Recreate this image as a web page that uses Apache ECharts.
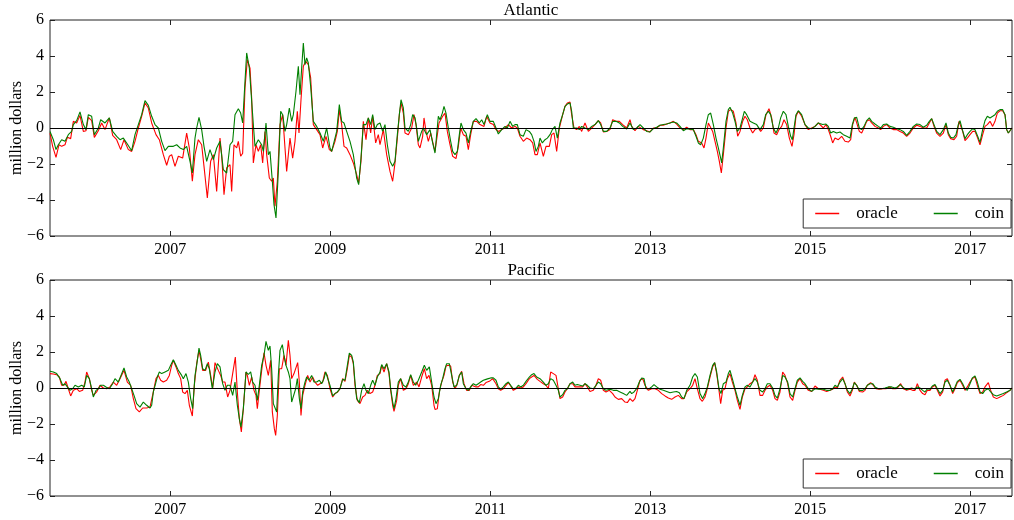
<!DOCTYPE html>
<html><head><meta charset="utf-8">
<script src="https://cdn.jsdelivr.net/npm/echarts/dist/echarts.min.js"></script>
<style>html,body{margin:0;padding:0;background:#fff}#c{width:1014px;height:520px}</style>
</head><body><div id="c"></div>
<script>
// x values: months since January 2005
const xTickMonths=[24,48,72,96,120,144];
const xTickLabels=['2007','2009','2011','2013','2015','2017'];
const panelTitles=['Atlantic','Pacific'];
const seriesNames=['oracle','coin'];

const atlOracle=[[5.95,-0.28],[6.35,-1.02],[6.85,-1.63],[7.3,-0.93],[7.7,-1.02],[8.2,-0.93],[8.55,-0.52],[9.05,-0.59],[9.45,0.37],[9.95,0.28],[10.45,0.7],[10.95,-0.19],[11.35,-0.15],[11.7,0.59],[12.2,0.41],[12.6,-0.52],[13.2,-0.15],[13.7,0.28],[14.2,-0.09],[14.85,0.56],[15.35,-0.41],[15.95,-0.65],[16.55,-1.2],[17.05,-0.65],[17.7,-1.2],[18.2,-1.3],[18.7,-0.74],[19.2,0],[19.7,0.65],[20.2,1.39],[20.7,1.11],[21.2,0.28],[21.85,-0.37],[22.35,-0.65],[22.95,-1.48],[23.45,-2.07],[23.85,-1.57],[24.2,-1.48],[24.7,-2.13],[25.2,-1.57],[25.85,-1.67],[26.45,-0.28],[26.85,-1.11],[27.3,-2.96],[27.7,-1.48],[28.2,-0.65],[28.7,-0.93],[29.05,-2.13],[29.55,-3.89],[30.05,-1.85],[30.45,-1.48],[30.95,-3.52],[31.45,-0.56],[31.7,-1.48],[32.05,-3.7],[32.45,-2.22],[32.95,-2.04],[33.2,-3.52],[33.55,-0.93],[33.95,-1.11],[34.2,-0.74],[34.55,-1.57],[34.85,-1.4],[35.2,2.22],[35.55,3.8],[35.95,3.33],[36.2,1.67],[36.45,-1.94],[36.85,-0.93],[37.2,-1.3],[37.55,-0.93],[37.85,-1.94],[38.2,-0.19],[38.45,-1.48],[38.85,-2.78],[39.2,-2.96],[39.45,-2.78],[39.7,-4.35],[40.05,-2.96],[40.45,0.19],[40.85,0.74],[41.2,-1.11],[41.45,-2.41],[41.7,-1.48],[41.95,-0.56],[42.35,-1.67],[42.7,-0.74],[43.05,0.93],[43.3,-0.28],[43.6,1.57],[43.95,3.43],[44.3,3.7],[44.7,3.52],[45.05,2.78],[45.45,0.19],[45.95,-0.09],[46.45,-0.37],[46.85,-1.11],[47.35,-0.46],[47.85,-1.2],[48.2,-1.3],[48.7,-0.74],[49.05,-0.19],[49.35,1.02],[49.7,0.19],[50.05,-1.02],[50.45,-1.11],[50.95,-1.48],[51.45,-1.94],[51.95,-2.59],[52.25,-3.06],[52.6,-1.85],[52.95,0.37],[53.35,-0.65],[53.7,0.56],[54.05,-0.28],[54.35,0.65],[54.8,-0.83],[55.2,-0.37],[55.45,-0.93],[55.95,-0.09],[56.45,-1.48],[56.95,-2.41],[57.35,-2.96],[57.7,-1.94],[58.05,-0.56],[58.35,0.74],[58.6,1.39],[58.95,0.83],[59.2,-0.28],[59.7,-0.37],[60.2,0],[60.55,0.74],[60.85,0.19],[61.2,-0.93],[61.45,-1.11],[61.85,-0.46],[62.05,0.56],[62.35,-0.19],[62.7,-0.74],[63.05,-0.28],[63.45,-0.93],[63.7,-1.3],[64.3,0.28],[64.55,0.19],[64.85,0.65],[65.2,0.83],[65.55,-0.19],[65.95,-0.93],[66.35,-1.57],[66.85,-1.7],[67.2,-1.02],[67.55,0],[67.95,-0.37],[68.35,-0.46],[68.7,-1.2],[69.05,-0.37],[69.45,0.37],[69.95,0.37],[70.45,0.19],[71.05,0.09],[71.45,0.65],[71.95,0.28],[72.45,0.19],[72.85,-0.09],[73.2,-0.19],[73.7,-0.09],[74.2,0],[74.7,0.19],[75.2,0],[75.7,0.09],[76.05,0],[76.45,-0.46],[76.95,-0.74],[77.45,-0.56],[77.95,-0.65],[78.35,-0.83],[78.7,-1.48],[79.05,-1.48],[79.45,-0.83],[79.95,-1.57],[80.35,-1.02],[80.85,-1.02],[81.2,-0.37],[81.55,-0.28],[81.95,-1.3],[82.35,0],[82.85,0.74],[83.2,1.2],[83.55,1.39],[83.95,1.44],[84.2,0.74],[84.55,0],[84.95,-0.09],[85.35,0.09],[85.7,-0.19],[86.2,0.28],[86.7,-0.19],[87.2,0],[87.7,0.19],[88.2,0.41],[88.55,0.28],[88.95,-0.22],[89.45,-0.19],[89.95,-0.09],[90.35,0.46],[90.85,0.37],[91.35,0.37],[91.85,0.19],[92.45,0],[92.95,0.46],[93.2,0.09],[93.7,-0.15],[94.2,0.09],[94.95,-0.09],[95.45,-0.15],[95.95,-0.22],[96.45,0],[96.95,0],[97.45,0.15],[97.95,0.15],[98.45,0.22],[98.95,0.28],[99.45,0.37],[99.95,0.22],[100.45,0],[100.95,-0.09],[101.45,0.04],[101.95,-0.09],[102.45,-0.09],[102.85,-0.37],[103.2,-0.74],[103.7,-0.83],[104.05,-1.11],[104.35,-0.56],[104.7,0.28],[104.95,0.37],[105.35,-0.19],[105.7,-0.74],[106.05,-1.3],[106.35,-1.85],[106.65,-2.5],[106.95,-1.48],[107.35,0],[107.7,0.93],[108.05,1.02],[108.45,0.93],[108.85,0.28],[109.1,-0.46],[109.45,-0.19],[109.85,0.37],[110.2,0.65],[110.55,0.46],[110.95,0],[111.35,-0.28],[111.7,-0.09],[112.2,0],[112.55,-0.19],[112.95,0],[113.35,0.74],[113.8,1.07],[114.2,0.56],[114.55,-0.28],[114.95,-0.37],[115.3,-0.09],[115.7,0.09],[116.05,0.46],[116.45,0.19],[116.85,-0.56],[117.25,-1.02],[117.55,-0.37],[117.85,0.65],[118.2,0.93],[118.7,0.65],[119.2,0.19],[119.7,-0.09],[120.2,0],[120.7,0.09],[121.2,0.28],[121.95,0],[122.35,0.19],[122.7,-0.09],[123.05,-0.46],[123.35,-0.83],[123.7,-0.56],[124.2,-0.65],[124.7,-0.46],[125.2,-0.74],[125.7,-0.78],[126.05,-0.65],[126.35,0.19],[126.7,0.59],[126.95,0.56],[127.35,-0.19],[127.7,-0.28],[128.05,0],[128.45,0.37],[128.85,0.46],[129.2,0.28],[129.7,0.09],[130.2,0],[130.55,-0.09],[130.95,0.09],[131.45,0.19],[131.95,0],[132.45,-0.09],[132.95,-0.09],[133.45,-0.19],[133.95,-0.28],[134.45,-0.46],[134.95,-0.28],[135.45,0],[135.95,0.15],[136.45,0.09],[136.95,0],[137.45,0],[137.85,0.28],[138.2,0.52],[138.55,0.09],[138.95,-0.28],[139.45,-0.46],[139.95,-0.28],[140.35,0.19],[140.7,-0.37],[141.05,-0.59],[141.55,-0.65],[141.95,-0.46],[142.3,0.37],[142.55,0.46],[142.85,-0.19],[143.2,-0.7],[143.55,-0.56],[143.95,-0.37],[144.35,-0.19],[144.7,-0.19],[145.1,-0.56],[145.45,-0.93],[145.85,-0.37],[146.2,0.09],[146.55,0.19],[146.95,0.37],[147.35,0.09],[147.7,0.37],[148.05,0.83],[148.45,0.96],[148.85,0.96],[149.2,0.74],[149.45,-0.09],[149.7,-0.28],[149.95,-0.19],[150.25,0]];

const atlCoin=[[5.95,-0.19],[6.45,-0.65],[6.85,-1.2],[7.2,-0.93],[7.7,-0.65],[8.2,-0.74],[8.7,-0.37],[9.2,-0.19],[9.45,0.19],[9.95,0.41],[10.45,0.89],[10.95,0.19],[11.35,-0.09],[11.7,0.74],[12.2,0.65],[12.6,-0.37],[13.2,0],[13.55,0.46],[14.2,0.28],[14.85,0.56],[15.35,-0.19],[15.95,-0.46],[16.45,-0.65],[16.95,-0.56],[17.45,-0.83],[18.2,-1.26],[18.7,-0.37],[19.2,0.19],[19.7,0.74],[20.2,1.52],[20.7,1.26],[21.2,0.65],[21.7,0.19],[22.2,0],[22.7,-0.74],[23.2,-1.26],[23.7,-1.02],[24.45,-1.02],[24.95,-0.93],[25.45,-1.11],[25.95,-1.2],[26.45,-1.02],[26.95,-1.85],[27.3,-2.5],[27.7,-0.56],[27.95,0],[28.3,0.59],[28.7,-0.09],[29.05,-1.02],[29.45,-1.85],[29.95,-1.2],[30.45,-1.76],[30.95,-1.11],[31.45,-0.74],[31.95,-2.31],[32.45,-2.5],[32.95,-0.93],[33.35,-0.74],[33.7,0.74],[34.2,1.07],[34.55,0.83],[34.85,0.28],[35.2,2.59],[35.45,4.17],[35.85,3.33],[36.1,3.24],[36.45,0.19],[36.7,-1.02],[37.2,-0.65],[37.7,-0.93],[37.95,-1.3],[38.35,0.28],[38.7,-1.48],[38.95,-1.3],[39.3,-2.96],[39.55,-4.26],[39.85,-5.0],[40.2,-2.41],[40.55,0.93],[40.85,0.74],[41.2,-0.19],[41.45,0.19],[41.85,1.11],[42.2,0.37],[42.45,0.74],[42.85,2.04],[43.2,3.43],[43.45,1.85],[43.7,3.33],[43.95,4.72],[44.2,3.52],[44.45,3.89],[44.7,3.61],[45.05,2.31],[45.45,0.37],[45.95,0.09],[46.45,-0.28],[46.95,-0.74],[47.45,0],[47.95,-1.11],[48.2,-1.3],[48.7,-0.56],[48.95,-0.19],[49.35,1.3],[49.7,0.37],[50.05,0.28],[50.45,-0.19],[50.95,-0.74],[51.45,-1.48],[51.95,-2.78],[52.25,-3.15],[52.6,-1.67],[52.95,0.19],[53.35,0.19],[53.7,0.56],[54.05,0.19],[54.35,0.74],[54.7,-0.09],[55.05,0.19],[55.45,0.28],[55.85,-0.19],[56.2,0.19],[56.55,-0.93],[56.95,-1.85],[57.35,-2.13],[57.7,-1.85],[58.05,-0.37],[58.35,0.74],[58.6,1.57],[58.95,1.11],[59.2,0],[59.7,-0.19],[60.05,0.19],[60.35,0.74],[60.7,0.56],[60.95,0],[61.2,-0.74],[61.7,-0.19],[61.95,0],[62.45,-0.37],[62.95,-0.09],[63.35,-0.83],[63.7,-1.39],[64.2,0.65],[64.45,0.46],[64.8,0.83],[65.05,1.2],[65.35,0.83],[65.7,0],[66.05,-0.74],[66.35,-1.3],[66.7,-1.48],[67.05,-1.3],[67.35,-0.37],[67.6,0.28],[67.95,-0.09],[68.35,-0.28],[68.7,-0.83],[69.05,-0.19],[69.45,0.37],[69.85,0.52],[70.35,0.28],[70.7,0.46],[71.05,0.19],[71.55,0.74],[71.95,0.37],[72.45,0.37],[72.85,0],[73.2,-0.33],[73.7,-0.09],[74.2,0.09],[74.55,0],[74.95,0.37],[75.35,0.09],[75.7,0.19],[76.05,0.19],[76.45,-0.37],[76.95,-0.46],[77.35,-0.09],[77.85,-0.19],[78.2,-0.37],[78.55,-0.74],[78.85,-1.3],[79.2,-1.02],[79.45,-0.56],[79.8,-0.83],[80.2,-0.65],[80.55,-0.56],[80.95,-0.37],[81.3,-0.09],[81.7,0.09],[82.05,-0.56],[82.45,0.28],[82.85,0.74],[83.2,1.2],[83.55,1.33],[83.95,1.39],[84.2,0.93],[84.45,0],[84.95,0],[85.35,-0.09],[85.7,0.09],[86.2,0],[86.7,-0.09],[87.2,0.09],[87.7,0.19],[88.2,0.41],[88.55,0.19],[88.95,-0.19],[89.45,-0.19],[89.95,0],[90.35,0.37],[90.85,0.37],[91.35,0.28],[91.85,0.09],[92.45,-0.06],[92.95,0.28],[93.45,-0.09],[93.95,0],[94.45,0.19],[94.95,0],[95.45,-0.19],[95.95,-0.22],[96.45,-0.04],[96.95,0.04],[97.45,0.15],[97.95,0.19],[98.45,0.22],[98.95,0.28],[99.45,0.33],[99.95,0.28],[100.45,0.09],[100.95,-0.15],[101.45,-0.04],[101.95,-0.06],[102.45,-0.09],[102.85,-0.46],[103.2,-0.83],[103.55,-0.93],[103.95,-0.56],[104.35,0.19],[104.7,0.74],[105.05,0.83],[105.45,0.19],[105.85,-0.56],[106.2,-1.11],[106.55,-1.67],[106.7,-1.94],[106.95,-1.11],[107.35,0.37],[107.7,1.02],[107.95,1.15],[108.35,0.83],[108.7,0.37],[109.05,-0.19],[109.45,0],[109.85,0.56],[110.1,0.93],[110.45,0.74],[110.95,0.37],[111.45,0.28],[111.95,0.19],[112.45,-0.09],[112.95,0.19],[113.3,0.74],[113.7,0.93],[114.05,0.74],[114.45,0],[114.85,-0.28],[115.2,0],[115.55,0.56],[115.95,0.93],[116.35,0.74],[116.7,0.09],[117.05,-0.46],[117.3,-0.65],[117.55,0],[117.85,0.74],[118.2,0.96],[118.7,0.74],[119.2,0.19],[119.7,0],[120.2,-0.04],[120.7,0.09],[121.2,0.28],[121.85,0.19],[122.35,0.22],[122.7,0.09],[123.05,-0.28],[123.45,-0.19],[123.95,-0.28],[124.45,-0.22],[124.95,-0.37],[125.45,-0.46],[125.95,-0.56],[126.3,0.19],[126.6,0.56],[126.95,0.59],[127.35,0],[127.7,-0.09],[128.05,0.09],[128.45,0.41],[128.85,0.56],[129.2,0.37],[129.7,0.22],[130.2,0.09],[130.55,0],[130.95,0.19],[131.45,0.22],[131.95,0.09],[132.45,0.04],[132.95,-0.04],[133.45,-0.09],[133.95,-0.19],[134.45,-0.41],[134.95,-0.19],[135.45,0.09],[135.95,0.22],[136.45,0.19],[136.95,0.04],[137.45,0.15],[137.85,0.37],[138.2,0.52],[138.55,0.19],[138.95,-0.19],[139.45,-0.37],[139.95,-0.09],[140.35,0.28],[140.7,-0.28],[141.05,-0.52],[141.45,-0.56],[141.85,-0.37],[142.2,0.19],[142.45,0.41],[142.8,-0.09],[143.2,-0.59],[143.55,-0.37],[143.95,-0.19],[144.35,-0.04],[144.7,-0.09],[145.1,-0.46],[145.45,-0.8],[145.85,-0.09],[146.2,0.41],[146.55,0.65],[146.95,0.56],[147.35,0.65],[147.7,0.74],[148.05,0.93],[148.45,1.02],[148.85,1.02],[149.2,0.74],[149.45,-0.09],[149.7,-0.28],[149.95,-0.19],[150.25,0]];

const pacOracle=[[5.95,0.8],[6.45,0.78],[6.95,0.74],[7.35,0.61],[7.7,0.15],[8.05,0.15],[8.35,0.37],[8.7,-0.04],[9.05,-0.44],[9.45,-0.13],[9.95,-0.04],[10.35,-0.19],[10.85,-0.13],[11.2,0.33],[11.45,0.89],[11.85,0.52],[12.2,-0.13],[12.45,-0.41],[12.95,-0.22],[13.45,0.15],[13.95,0],[14.45,-0.04],[14.95,0.06],[15.45,0.33],[15.95,0.15],[16.45,0.52],[17.05,0.98],[17.55,0.33],[18.05,0.15],[18.45,-0.59],[18.85,-1.15],[19.35,-1.33],[19.85,-1.11],[20.45,-1.11],[20.95,-1.06],[21.45,-0.22],[21.85,0.52],[22.2,0.7],[22.55,0.43],[22.95,0.33],[23.45,0.43],[23.85,0.7],[24.2,1.26],[24.45,1.54],[24.85,1.17],[25.2,0.8],[25.55,0.52],[25.85,-0.22],[26.2,-0.31],[26.55,-0.13],[26.85,-0.96],[27.3,-1.56],[27.6,0.15],[27.95,1.35],[28.3,2.09],[28.55,1.63],[28.85,0.98],[29.3,0.98],[29.7,1.44],[30.05,0.7],[30.35,-0.04],[30.7,1.41],[31.2,0.98],[31.55,0.7],[31.85,0.33],[32.2,0.33],[32.6,-0.5],[32.95,-0.13],[33.35,0.8],[33.75,1.72],[34.05,-0.22],[34.35,-1.7],[34.65,-2.44],[34.95,-1.15],[35.35,0.89],[35.55,0.7],[35.85,0.15],[36.2,0.61],[36.55,-0.13],[36.85,-0.41],[37.05,-1.15],[37.35,-0.13],[37.7,0.98],[38.05,1.96],[38.35,1.26],[38.7,0.7],[39.05,1.54],[39.3,-1.33],[39.6,-2.26],[39.8,-2.63],[40.05,-1.52],[40.35,1.07],[40.7,1.07],[41.05,1.81],[41.35,1.26],[41.7,2.65],[41.95,1.81],[42.2,0.52],[42.55,0.8],[42.85,0.7],[43.1,1.41],[43.35,0.33],[43.6,-1.52],[43.85,-0.41],[44.2,0.15],[44.6,0.7],[44.95,0.33],[45.35,0.61],[45.7,0.33],[46.1,0.15],[46.45,0.24],[46.85,0.33],[47.2,0.89],[47.55,0.7],[47.95,-0.04],[48.35,-0.5],[48.7,-0.31],[49.1,-0.22],[49.45,-0.04],[49.85,0.52],[50.2,0.37],[50.55,1.07],[50.85,1.81],[51.2,1.72],[51.45,1.35],[51.7,0.15],[52.05,-0.69],[52.45,-0.87],[52.85,-0.5],[53.2,-0.41],[53.55,-0.13],[53.95,-0.31],[54.35,-0.22],[54.7,0.15],[55.05,0.7],[55.45,0.8],[55.7,1.26],[56.05,0.89],[56.45,1.35],[56.8,0.8],[57.05,-0.13],[57.35,-0.96],[57.55,-1.3],[57.95,-0.69],[58.2,0.15],[58.55,0.52],[58.95,-0.13],[59.35,-0.04],[59.7,0.24],[60.05,0.7],[60.45,0.15],[60.95,0.33],[61.3,0.06],[61.7,0.61],[62.1,1.07],[62.45,0.52],[62.8,0.7],[63.2,0.15],[63.55,-0.96],[63.7,-1.19],[64.05,-1.15],[64.35,-0.22],[64.7,0.33],[65.05,0.7],[65.35,1.22],[65.7,1.26],[66.05,1.22],[66.35,0.33],[66.7,-0.04],[67.05,0.24],[67.35,0.7],[67.7,0.93],[68.05,0.24],[68.45,-0.13],[68.85,-0.13],[69.2,0.15],[69.45,0.24],[69.85,0.06],[70.2,0.06],[70.55,0.19],[70.95,0.15],[71.35,0.3],[71.85,0.37],[72.35,0.52],[72.85,0.24],[73.2,-0.04],[73.55,-0.13],[73.95,-0.04],[74.35,0.15],[74.7,0.3],[75.05,0.11],[75.45,-0.13],[75.85,-0.04],[76.2,0.06],[76.55,0],[76.95,0.06],[77.35,0.24],[77.85,0.52],[78.2,0.61],[78.55,0.7],[79.05,0.48],[79.45,0.37],[79.95,0.24],[80.35,0.15],[80.7,-0.04],[81.05,0.89],[81.45,0.8],[81.85,0.7],[82.2,-0.04],[82.45,-0.59],[82.85,-0.5],[83.2,-0.22],[83.55,-0.04],[83.95,0.24],[84.35,0.24],[84.7,0.06],[85.05,0.06],[85.45,0.06],[85.85,0.06],[86.2,0.24],[86.55,0.06],[86.95,-0.19],[87.45,-0.13],[87.85,0.15],[88.2,0.52],[88.55,0.43],[88.95,-0.13],[89.35,-0.22],[89.85,-0.13],[90.35,-0.31],[90.7,-0.5],[91.2,-0.63],[91.7,-0.59],[92.2,-0.78],[92.55,-0.81],[92.95,-0.59],[93.35,-0.74],[93.7,-0.59],[94.05,-0.13],[94.45,0.43],[94.85,0.52],[95.2,0.15],[95.7,-0.13],[96.2,-0.04],[96.7,-0.04],[97.2,-0.13],[97.7,-0.31],[98.2,-0.44],[98.7,-0.56],[99.2,-0.63],[99.7,-0.5],[100.2,-0.41],[100.7,-0.59],[101.05,-0.59],[101.45,-0.22],[101.95,-0.04],[102.35,0.15],[102.7,0.52],[103.05,-0.04],[103.45,-0.59],[103.8,-0.74],[104.2,-0.5],[104.55,-0.04],[104.95,0.61],[105.35,1.17],[105.65,1.41],[105.95,0.8],[106.2,0.15],[106.55,-0.87],[106.85,-0.13],[107.2,-0.04],[107.55,0.52],[107.95,0.8],[108.3,0.33],[108.7,-0.13],[109.05,-0.69],[109.45,-1.19],[109.8,-0.5],[110.2,-0.04],[110.55,0.06],[110.95,0.24],[111.35,0.33],[111.7,0.74],[112.05,0.43],[112.45,-0.41],[112.85,-0.41],[113.2,-0.13],[113.55,0.06],[113.95,0.15],[114.35,-0.13],[114.7,-0.59],[115.05,-0.69],[115.45,-0.22],[115.85,0.89],[116.2,0.7],[116.6,0.24],[116.95,-0.5],[117.35,-0.69],[117.7,-0.13],[118.05,0.33],[118.45,0.52],[118.85,0.24],[119.2,0.15],[119.7,-0.13],[120.2,-0.19],[120.7,0.11],[121.2,-0.04],[121.45,-0.13],[121.95,-0.13],[122.45,-0.19],[122.95,-0.13],[123.35,-0.07],[123.7,0.06],[124.05,0],[124.45,0.43],[124.85,0.61],[125.2,0.24],[125.55,-0.22],[125.95,-0.44],[126.3,-0.13],[126.6,0.33],[126.95,0.15],[127.35,-0.19],[127.85,-0.22],[128.2,-0.13],[128.55,0.15],[129.05,0.3],[129.45,0.15],[129.85,-0.04],[130.35,-0.07],[130.85,-0.04],[131.35,-0.04],[131.85,0.06],[132.35,-0.04],[132.85,-0.04],[133.2,0.06],[133.55,0.24],[133.95,-0.04],[134.45,-0.13],[134.95,-0.07],[135.35,-0.13],[135.7,-0.13],[136.05,0.24],[136.45,-0.13],[136.85,-0.31],[137.2,-0.37],[137.55,-0.13],[137.95,-0.13],[138.3,0.06],[138.7,0.15],[139.05,-0.13],[139.45,-0.44],[139.85,-0.22],[140.2,0.43],[140.55,0.52],[140.95,0.15],[141.35,-0.31],[141.7,-0.04],[142.05,0.3],[142.45,0.43],[142.85,0.15],[143.2,-0.13],[143.55,0.06],[143.95,0.33],[144.3,0.52],[144.7,0.61],[145.05,0.15],[145.45,-0.31],[145.85,-0.22],[146.2,0.06],[146.7,0.3],[147.05,-0.13],[147.45,-0.5],[147.95,-0.59],[148.45,-0.5],[148.95,-0.41],[149.45,-0.26],[149.95,-0.13],[150.25,0]];

const pacCoin=[[5.95,0.93],[6.45,0.89],[6.95,0.8],[7.45,0.52],[7.85,0.15],[8.2,0.24],[8.55,0.06],[8.95,-0.13],[9.35,-0.04],[9.7,0.15],[10.2,0.06],[10.7,0.15],[11.1,0.06],[11.45,0.7],[11.85,0.52],[12.2,-0.04],[12.45,-0.5],[12.85,-0.13],[13.2,-0.04],[13.55,0.15],[13.95,0.15],[14.35,0.06],[14.85,-0.04],[15.35,0.24],[15.7,0.52],[16.2,0.33],[16.6,0.7],[17.05,1.11],[17.45,0.61],[17.85,0.33],[18.2,-0.04],[18.55,-0.41],[18.95,-0.87],[19.45,-1.06],[19.95,-0.78],[20.45,-0.96],[20.95,-1.11],[21.2,-0.96],[21.45,-0.22],[21.7,-0.13],[22.05,0.61],[22.35,0.89],[22.7,0.8],[23.2,0.89],[23.7,0.98],[24.05,1.26],[24.45,1.57],[24.85,1.26],[25.2,0.98],[25.7,0.7],[25.95,0.52],[26.35,0.8],[26.7,0.33],[27.05,-0.59],[27.35,-1.15],[27.7,0.7],[27.95,1.26],[28.3,2.22],[28.55,1.81],[28.85,1.07],[29.2,0.98],[29.55,1.35],[29.85,1.07],[30.3,-0.04],[30.7,0.89],[31.05,1.35],[31.45,1.17],[31.85,0.24],[32.2,-0.13],[32.55,0.15],[32.95,0.15],[33.35,-0.41],[33.7,0.33],[34.05,-0.96],[34.35,-1.7],[34.6,-2.17],[34.95,-1.15],[35.35,0.89],[35.7,0.75],[36.05,0.89],[36.35,0.33],[36.7,0.15],[37.05,-0.69],[37.35,0.15],[37.7,1.26],[38.05,1.81],[38.35,2.59],[38.7,2.09],[38.95,2.33],[39.2,1.07],[39.45,-0.87],[39.7,-0.78],[39.95,-1.33],[40.2,0.7],[40.45,2.09],[40.8,2.41],[41.05,1.81],[41.35,1.26],[41.7,0.89],[41.95,0.52],[42.2,-0.78],[42.45,-0.87],[42.8,-0.04],[43.05,0.52],[43.35,-0.59],[43.6,-1.15],[43.85,-0.22],[44.2,0.33],[44.45,0.61],[44.8,0.43],[45.2,0.7],[45.55,0.33],[45.95,0.33],[46.35,0.43],[46.7,0.24],[47.05,0.52],[47.3,0.89],[47.6,0.8],[47.95,0.15],[48.35,-0.44],[48.7,-0.31],[49.05,-0.22],[49.45,-0.04],[49.85,0.48],[50.2,0.43],[50.55,1.26],[50.85,1.94],[51.2,1.81],[51.45,1.44],[51.7,0.33],[51.95,-0.59],[52.35,-0.81],[52.7,-0.13],[53.05,0.24],[53.35,-0.13],[53.7,-0.31],[54.05,0.15],[54.35,0.43],[54.7,0.15],[55.05,0.61],[55.45,0.89],[55.7,1.3],[56.05,1.07],[56.45,1.35],[56.8,0.89],[57.05,-0.04],[57.35,-0.78],[57.55,-1.15],[57.85,-0.59],[58.2,0.33],[58.55,0.52],[58.95,0.15],[59.35,0.06],[59.7,0.33],[60.05,0.74],[60.45,0.33],[60.8,0.15],[61.2,0.43],[61.7,0.89],[62.1,1.26],[62.45,0.98],[62.85,1.17],[63.2,0.33],[63.55,-0.5],[63.85,-0.87],[64.2,-0.59],[64.55,0.15],[64.85,0.52],[65.2,1.07],[65.45,1.35],[65.85,1.35],[66.2,0.7],[66.55,0.06],[66.95,0.15],[67.35,0.7],[67.7,0.89],[67.95,0.24],[68.35,-0.04],[68.7,-0.13],[69.05,0.06],[69.45,0.24],[69.85,0.15],[70.2,0.24],[70.55,0.33],[70.95,0.43],[71.35,0.48],[71.7,0.52],[72.05,0.56],[72.45,0.56],[72.85,0.43],[73.2,0.06],[73.55,-0.07],[73.95,0.06],[74.35,0.24],[74.7,0.33],[75.05,0.15],[75.45,-0.04],[75.85,0],[76.2,0.15],[76.55,0.06],[76.95,0.15],[77.35,0.37],[77.85,0.61],[78.2,0.74],[78.55,0.8],[78.95,0.61],[79.45,0.52],[79.95,0.33],[80.35,0.15],[80.7,0.24],[81.05,0.52],[81.45,0.43],[81.85,0.15],[82.2,-0.13],[82.45,-0.5],[82.85,-0.37],[83.2,-0.13],[83.55,-0.04],[83.95,0.24],[84.35,0.33],[84.7,0.15],[85.05,0.19],[85.45,0.15],[85.85,0.11],[86.2,0.24],[86.55,0.15],[86.95,0],[87.45,-0.04],[87.85,0.15],[88.2,0.33],[88.55,0.24],[88.95,-0.04],[89.35,-0.13],[89.95,-0.07],[90.45,-0.13],[90.95,-0.13],[91.45,-0.22],[91.95,-0.31],[92.45,-0.41],[92.95,-0.19],[93.2,-0.31],[93.55,-0.22],[93.95,-0.04],[94.35,0.33],[94.7,0.56],[95.05,0.52],[95.35,-0.04],[95.85,-0.04],[96.2,0.06],[96.55,0.19],[96.95,0.06],[97.45,-0.07],[97.95,-0.13],[98.45,-0.19],[98.95,-0.26],[99.45,-0.22],[99.95,-0.19],[100.35,-0.26],[100.7,-0.5],[101.05,-0.59],[101.45,-0.13],[101.95,0.15],[102.35,0.61],[102.7,0.8],[103.05,0.61],[103.45,-0.31],[103.85,-0.59],[104.2,-0.31],[104.55,0.06],[104.95,0.7],[105.35,1.26],[105.65,1.41],[105.95,0.89],[106.3,-0.04],[106.6,-0.31],[106.95,0.24],[107.35,0.33],[107.7,0.8],[107.95,0.98],[108.3,0.52],[108.7,-0.04],[109.05,-0.5],[109.45,-0.96],[109.8,-0.41],[110.2,0.06],[110.55,0.15],[110.95,0.06],[111.35,0.33],[111.7,0.52],[112.05,0.33],[112.45,-0.13],[112.85,-0.22],[113.2,-0.04],[113.55,0.24],[113.95,0.24],[114.35,0],[114.7,-0.41],[115.05,-0.56],[115.45,-0.04],[115.85,0.7],[116.2,0.61],[116.6,0.33],[116.95,-0.31],[117.35,-0.5],[117.7,-0.04],[118.05,0.43],[118.45,0.56],[118.85,0.37],[119.2,0.24],[119.7,-0.04],[120.2,-0.19],[120.7,-0.04],[121.2,-0.07],[121.45,-0.13],[121.95,-0.07],[122.45,-0.13],[122.95,-0.13],[123.35,-0.04],[123.7,0.15],[124.05,0.06],[124.45,0.33],[124.85,0.52],[125.2,0.24],[125.55,-0.13],[125.95,-0.31],[126.3,-0.04],[126.6,0.3],[126.95,0.15],[127.35,-0.13],[127.85,-0.13],[128.2,-0.04],[128.55,0.15],[128.95,0.24],[129.35,0.24],[129.7,0.06],[130.2,-0.04],[130.7,-0.04],[131.2,0],[131.7,0.06],[132.2,0.06],[132.7,0],[133.05,0.06],[133.45,0.19],[133.85,0.06],[134.35,-0.09],[134.85,-0.04],[135.2,0],[135.7,-0.07],[136.05,0.06],[136.45,0],[136.85,-0.13],[137.2,-0.22],[137.55,-0.04],[137.95,-0.07],[138.3,0.11],[138.7,0.19],[139.05,-0.04],[139.45,-0.31],[139.85,-0.13],[140.2,0.33],[140.55,0.43],[140.95,0.15],[141.35,-0.22],[141.7,0.06],[142.05,0.37],[142.45,0.48],[142.85,0.24],[143.2,-0.04],[143.55,-0.13],[143.95,0.24],[144.3,0.56],[144.7,0.67],[145.05,0.33],[145.45,-0.22],[145.85,-0.31],[146.2,-0.13],[146.7,-0.04],[147.05,-0.22],[147.45,-0.37],[147.95,-0.44],[148.45,-0.37],[148.95,-0.31],[149.45,-0.22],[149.95,-0.13],[150.25,0]];

const FONT="'Liberation Serif','DejaVu Serif',serif";
const X_MIN=5.95, X_MAX=150.25;
const gridTops=[20,280];
const panelData=[[atlOracle,atlCoin],[pacOracle,pacCoin]];
const colors=['#ff0000','#008000'];

const grids=[],xAxes=[],yAxes=[],series=[],titles=[],legends=[];
gridTops.forEach((top,i)=>{
  grids.push({left:50,right:2,top:top,height:216,show:true,borderColor:'#222',borderWidth:1,backgroundColor:'transparent',outerBoundsMode:'none',containLabel:false});
  titles.push({text:panelTitles[i],left:531,top:top-18,padding:0,textAlign:'center',textStyle:{fontFamily:FONT,fontSize:17,fontWeight:'normal',color:'#000'}});
  const tick={show:true,inside:true,length:5,customValues:xTickMonths,lineStyle:{color:'#222'}};
  xAxes.push({gridIndex:i,type:'value',min:X_MIN,max:X_MAX,position:'bottom',axisLine:{show:false,onZero:false},splitLine:{show:false},
    axisTick:tick,
    axisLabel:{customValues:xTickMonths,formatter:v=>xTickLabels[xTickMonths.indexOf(v)]||'',fontFamily:FONT,fontSize:16,color:'#000',margin:6}});
  xAxes.push({gridIndex:i,type:'value',min:X_MIN,max:X_MAX,position:'top',axisLine:{show:false,onZero:false},splitLine:{show:false},
    axisTick:tick,axisLabel:{show:false}});
  yAxes.push({gridIndex:i,type:'value',min:-6,max:6,interval:2,position:'left',axisLine:{show:false,onZero:false},splitLine:{show:false},
    axisTick:{show:true,inside:true,length:5,lineStyle:{color:'#222'}},
    axisLabel:{formatter:v=>v<0?'\u2212'+(-v):String(v),fontFamily:FONT,fontSize:16,color:'#000',margin:6},
    name:'million dollars',nameLocation:'middle',nameGap:25,nameMoveOverlap:false,nameTextStyle:{fontFamily:FONT,fontSize:16,color:'#000'}});
  yAxes.push({gridIndex:i,type:'value',min:-6,max:6,interval:2,position:'right',axisLine:{show:false,onZero:false},splitLine:{show:false},
    axisTick:{show:true,inside:true,length:5,lineStyle:{color:'#222'}},axisLabel:{show:false}});
  panelData[i].forEach((d,k)=>{
    const s={name:seriesNames[k],type:'line',xAxisIndex:2*i,yAxisIndex:2*i,data:d,symbol:'none',
      lineStyle:{color:colors[k],width:1.1},itemStyle:{color:colors[k]},z:2+k};
    if(k===0){s.markLine={silent:true,symbol:'none',label:{show:false},lineStyle:{color:'#000',width:1,type:'solid'},data:[{yAxis:0}],z:5};}
    series.push(s);
  });
  legends.push({data:seriesNames,right:3,top:top+179,orient:'horizontal',icon:'rect',itemWidth:24,itemHeight:1.5,itemGap:36,
    padding:[6,7,6,12],borderColor:'#333',borderWidth:1,backgroundColor:'#fff',selectedMode:false,
    textStyle:{fontFamily:FONT,fontSize:17,color:'#000',padding:[0,0,0,12]}});
});

const chart=echarts.init(document.getElementById('c'),null,{renderer:'canvas'});
chart.setOption({animation:false,backgroundColor:'#fff',title:titles,legend:legends,grid:grids,xAxis:xAxes,yAxis:yAxes,series:series});
</script></body></html>
